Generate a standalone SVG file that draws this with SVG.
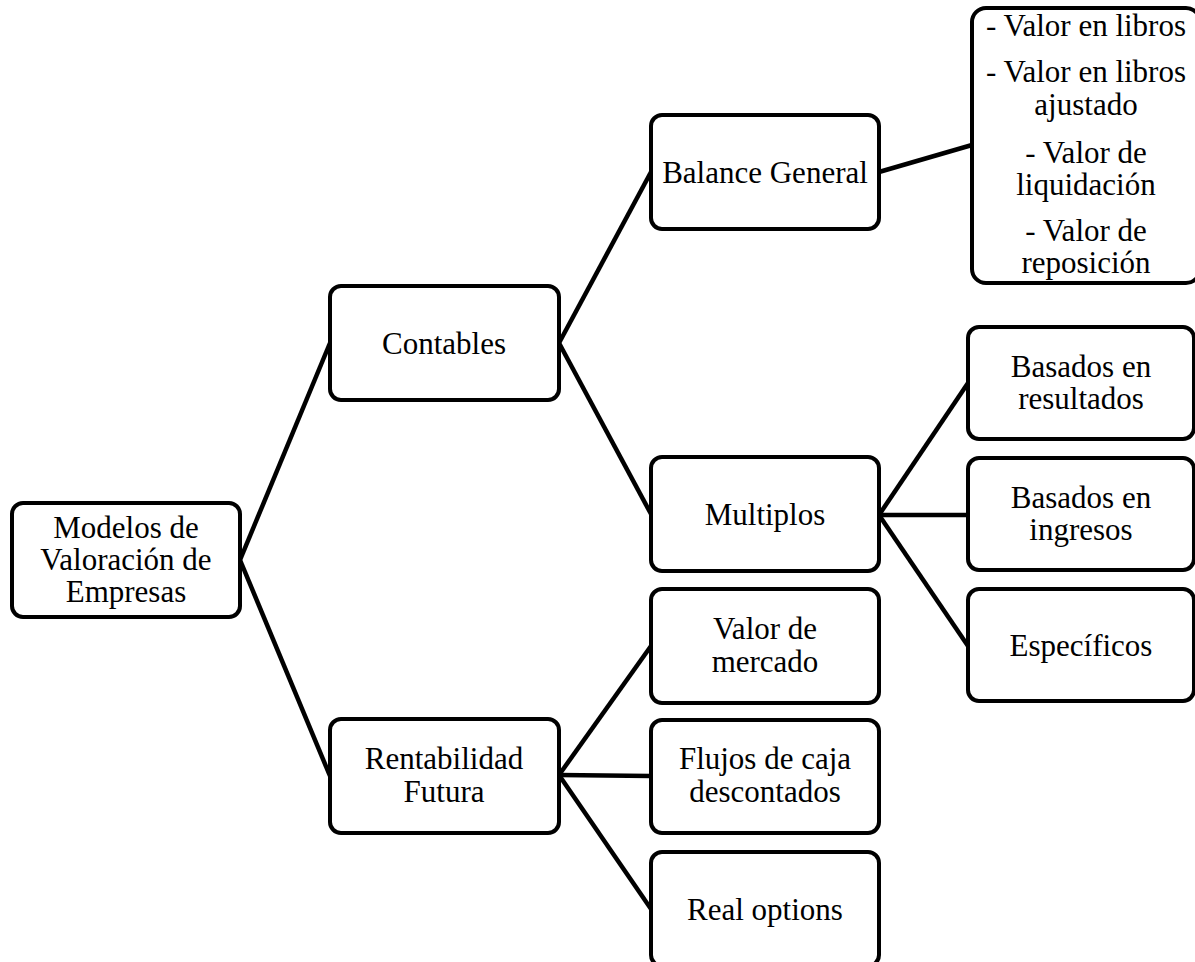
<svg xmlns="http://www.w3.org/2000/svg" width="1195" height="962" viewBox="0 0 1195 962">
<style>
.box{fill:#fff;stroke:#000;stroke-width:4}
.lbl{font-family:'Liberation Serif','Times New Roman',serif;font-size:31px;fill:#000;text-anchor:middle}
.con{stroke:#000;stroke-width:4.5;fill:none}
</style>
<rect width="1195" height="962" fill="#fff"/>
<g id="connectors">
<line class="con" x1="240" y1="560" x2="330" y2="343"/>
<line class="con" x1="240" y1="560" x2="330" y2="776"/>
<line class="con" x1="559" y1="343" x2="651" y2="172"/>
<line class="con" x1="559" y1="343" x2="651" y2="514"/>
<line class="con" x1="879" y1="172" x2="972" y2="145"/>
<line class="con" x1="879" y1="515" x2="968" y2="383"/>
<line class="con" x1="879" y1="515" x2="968" y2="515"/>
<line class="con" x1="879" y1="515" x2="968" y2="646"/>
<line class="con" x1="559" y1="775" x2="651" y2="646"/>
<line class="con" x1="559" y1="775" x2="651" y2="776"/>
<line class="con" x1="559" y1="775" x2="651" y2="909"/>
</g>
<g id="n-root">
<rect class="box" x="12" y="503" width="228" height="114" rx="11"/>
<text class="lbl" x="126" y="538">Modelos de</text>
<text class="lbl" x="126" y="570">Valoración de</text>
<text class="lbl" x="126" y="602">Empresas</text>
</g>
<g id="n-contables">
<rect class="box" x="330" y="286" width="229" height="114" rx="11"/>
<text class="lbl" x="444" y="354">Contables</text>
</g>
<g id="n-rentabilidad">
<rect class="box" x="330" y="719" width="229" height="114" rx="11"/>
<text class="lbl" x="444" y="769">Rentabilidad</text>
<text class="lbl" x="444" y="802">Futura</text>
</g>
<g id="n-balance">
<rect class="box" x="651" y="115" width="228" height="114" rx="11"/>
<text class="lbl" x="765" y="183">Balance General</text>
</g>
<g id="n-multiplos">
<rect class="box" x="651" y="457" width="228" height="114" rx="11"/>
<text class="lbl" x="765" y="525">Multiplos</text>
</g>
<g id="n-mercado">
<rect class="box" x="651" y="589" width="228" height="114" rx="11"/>
<text class="lbl" x="765" y="639">Valor de</text>
<text class="lbl" x="765" y="672">mercado</text>
</g>
<g id="n-flujos">
<rect class="box" x="651" y="720" width="228" height="113" rx="11"/>
<text class="lbl" x="765" y="769">Flujos de caja</text>
<text class="lbl" x="765" y="802">descontados</text>
</g>
<g id="n-real">
<rect class="box" x="651" y="852" width="228" height="114" rx="11"/>
<text class="lbl" x="765" y="920">Real options</text>
</g>
<g id="n-valores">
<rect class="box" x="972" y="8" width="228" height="275" rx="14"/>
<text class="lbl" x="1086" y="36">- Valor en libros</text>
<text class="lbl" x="1086" y="82">- Valor en libros</text>
<text class="lbl" x="1086" y="115">ajustado</text>
<text class="lbl" x="1086" y="163">- Valor de</text>
<text class="lbl" x="1086" y="195">liquidación</text>
<text class="lbl" x="1086" y="241">- Valor de</text>
<text class="lbl" x="1086" y="273">reposición</text>
</g>
<g id="n-resultados">
<rect class="box" x="968" y="327" width="226" height="112" rx="11"/>
<text class="lbl" x="1081" y="377">Basados en</text>
<text class="lbl" x="1081" y="409">resultados</text>
</g>
<g id="n-ingresos">
<rect class="box" x="968" y="458" width="226" height="112" rx="11"/>
<text class="lbl" x="1081" y="508">Basados en</text>
<text class="lbl" x="1081" y="540">ingresos</text>
</g>
<g id="n-especificos">
<rect class="box" x="968" y="589" width="226" height="112" rx="11"/>
<text class="lbl" x="1081" y="656">Específicos</text>
</g>
</svg>
